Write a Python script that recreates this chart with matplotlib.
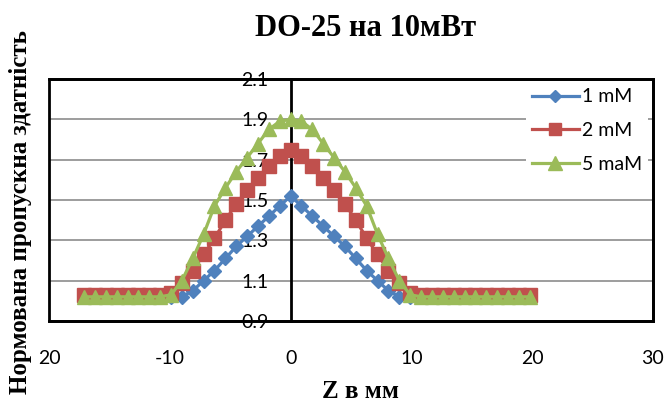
import matplotlib
matplotlib.use("Agg")
import matplotlib.pyplot as plt
from matplotlib.patches import Rectangle

# Z positions, mm
z_mm = [-17.1, -16.2, -15.3, -14.4, -13.5, -12.6, -11.7, -10.8, -9.9, -9.0,
        -8.1, -7.2, -6.3, -5.4, -4.5, -3.6, -2.7, -1.8, -0.9, 0.0,
        0.9, 1.8, 2.7, 3.6, 4.5, 5.4, 6.3, 7.2, 8.1, 9.0,
        9.9, 10.8, 11.7, 12.6, 13.5, 14.4, 15.3, 16.2, 17.1, 18.0,
        18.9, 19.8]

t_1mm = [1.02, 1.02, 1.02, 1.02, 1.02, 1.02, 1.02, 1.02, 1.02, 1.02,
         1.05, 1.10, 1.15, 1.21, 1.27, 1.32, 1.37, 1.42, 1.47, 1.52,
         1.47, 1.42, 1.37, 1.32, 1.27, 1.21, 1.15, 1.10, 1.05, 1.02,
         1.02, 1.02, 1.02, 1.02, 1.02, 1.02, 1.02, 1.02, 1.02, 1.02,
         1.02, 1.02]

t_2mm = [1.03, 1.03, 1.03, 1.03, 1.03, 1.03, 1.03, 1.03, 1.04, 1.09,
         1.15, 1.23, 1.31, 1.40, 1.48, 1.55, 1.61, 1.67, 1.72, 1.75,
         1.72, 1.67, 1.61, 1.55, 1.48, 1.40, 1.31, 1.23, 1.15, 1.09,
         1.04, 1.03, 1.03, 1.03, 1.03, 1.03, 1.03, 1.03, 1.03, 1.03,
         1.03, 1.03]

t_5mm = [1.02, 1.02, 1.02, 1.02, 1.02, 1.02, 1.02, 1.02, 1.03, 1.10,
         1.21, 1.33, 1.47, 1.56, 1.64, 1.71, 1.78, 1.85, 1.89, 1.90,
         1.89, 1.85, 1.78, 1.71, 1.64, 1.56, 1.47, 1.33, 1.21, 1.10,
         1.03, 1.02, 1.02, 1.02, 1.02, 1.02, 1.02, 1.02, 1.02, 1.02,
         1.02, 1.02]

x_ticks = [-20, -10, 0, 10, 20, 30]
x_tick_labels = ['20', '-10', '0', '10', '20', '30']
y_ticks = [0.9, 1.1, 1.3, 1.5, 1.7, 1.9, 2.1]
y_tick_labels = ['0.9', '1.1', '1.3', '1.5', '1.7', '1.9', '2.1']

plt.rcParams['font.family'] = ['Lato', 'DejaVu Sans']

fig = plt.figure(figsize=(6.65, 4.03), dpi=100)
ax = fig.add_axes([49 / 665, 82 / 403, 604 / 665, 242 / 403])

ax.set_xlim(-20, 30)
ax.set_ylim(0.9, 2.1)

# gridlines
for y in y_ticks[1:-1]:
    ax.axhline(y, color='#8c8c8c', lw=1.2, zorder=1)

ax.plot(z_mm, t_1mm, color='#4F81BD', marker='D', ms=7, lw=2.3, label='1 mM', zorder=3)
ax.plot(z_mm, t_2mm, color='#C0504D', marker='s', ms=10, lw=2.3, label='2 mM', zorder=3)
ax.plot(z_mm, t_5mm, color='#9BBB59', marker='^', ms=10.5, lw=2.3, label='5 maM', zorder=3)

# y axis crosses at x = 0, frame drawn separately
ax.spines['left'].set_position(('data', 0))
for s in ax.spines.values():
    s.set_linewidth(2)
    s.set_color('black')
ax.add_patch(Rectangle((0, 0), 1, 1, transform=ax.transAxes, fill=False,
                       lw=2, ec='black', clip_on=False, zorder=4))

ax.set_xticks(x_ticks)
ax.set_xticklabels(x_tick_labels)
ax.set_yticks(y_ticks)
ax.set_yticklabels(y_tick_labels)
ax.tick_params(axis='both', length=0, labelsize=14, colors='black')
ax.tick_params(axis='x', pad=21)
ax.tick_params(axis='y', pad=16)

leg = ax.legend(loc='upper left', bbox_to_anchor=(0.79, 0.985), borderaxespad=0,
                fontsize=14, handlelength=2.4, handletextpad=0.15,
                labelspacing=0.85, frameon=True, fancybox=False,
                borderpad=0.3, markerscale=0.9)
leg.get_frame().set_edgecolor('none')
leg.get_frame().set_facecolor('white')
leg.get_frame().set_alpha(1)
leg.set_zorder(5)

fig.text(366 / 665, 1 - 29 / 403, 'DO-25 на 10мВт', ha='center', va='center',
         fontsize=22, fontweight='bold', family='Liberation Serif')
fig.text(360 / 665, 1 - 391 / 403, 'Z в мм', ha='center', va='center',
         fontsize=18, fontweight='bold', family='Liberation Serif')
fig.text(21 / 665, 1 - 212 / 403, 'Нормована пропускна здатність', ha='center',
         va='center', rotation=90, fontsize=18, fontweight='bold',
         family='Liberation Serif')

fig.savefig('out.png', dpi=100)
